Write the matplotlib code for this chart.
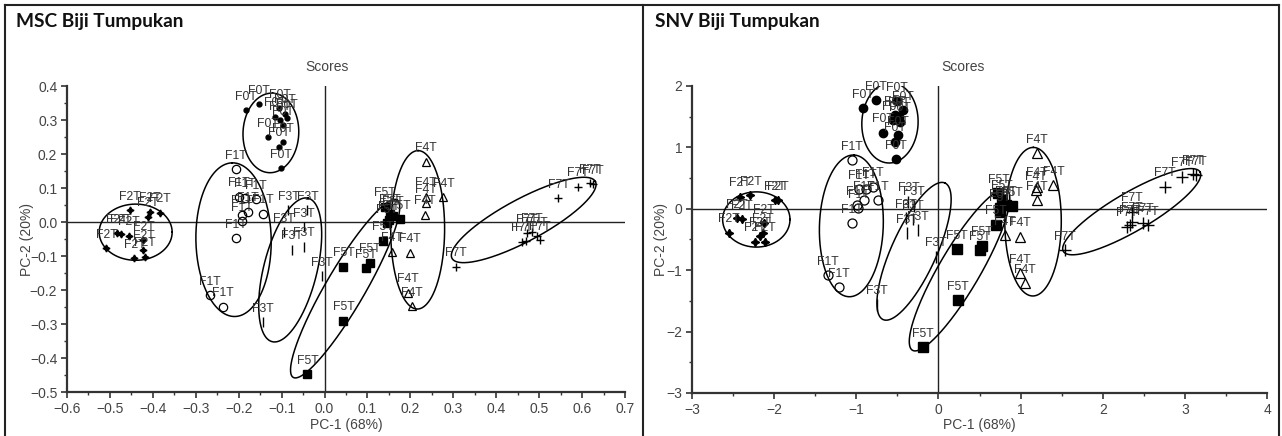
import numpy as np
import matplotlib
matplotlib.use('Agg')
import matplotlib.pyplot as plt
from matplotlib.lines import Line2D
from matplotlib.ticker import MultipleLocator

plt.rcParams['font.family'] = ['Liberation Sans', 'DejaVu Sans']

# ---------------- data: MSC (left) ----------------
msc_f0_x = [-0.183, -0.153, -0.092, -0.087, -0.104, -0.097, -0.132, -0.106, -0.097, -0.101, -0.105, -0.115]
msc_f0_y = [0.329, 0.347, 0.318, 0.306, 0.300, 0.285, 0.250, 0.221, 0.235, 0.159, 0.335, 0.310]
msc_f1_x = [-0.206, -0.160, -0.178, -0.144, -0.193, -0.193, -0.206, -0.267, -0.237, -0.200, -0.185]
msc_f1_y = [0.155, 0.067, 0.030, 0.025, 0.021, 0.003, -0.048, -0.215, -0.249, 0.075, 0.072]
msc_f2_x = [-0.453, -0.407, -0.383, -0.412, -0.484, -0.475, -0.455, -0.422, -0.508, -0.443, -0.422, -0.418]
msc_f2_y = [0.035, 0.030, 0.027, 0.015, -0.033, -0.035, -0.040, -0.053, -0.077, -0.107, -0.082, -0.102]
msc_f3_x = [-0.076, -0.049, -0.084, -0.040, -0.094, -0.048, -0.143, -0.006]
msc_f3_y = [-0.082, -0.073, 0.035, 0.035, -0.030, -0.015, -0.294, -0.159]
msc_f4_x = [0.237, 0.237, 0.277, 0.237, 0.234, 0.157, 0.198, 0.195, 0.203]
msc_f4_y = [0.177, 0.074, 0.073, 0.055, 0.021, -0.087, -0.090, -0.208, -0.247]
msc_f5_x = [0.141, 0.153, 0.160, 0.176, 0.146, 0.150, 0.136, 0.044, 0.097, 0.106, 0.044, -0.040]
msc_f5_y = [0.045, 0.024, 0.018, 0.008, -0.004, 0.005, -0.055, -0.131, -0.136, -0.120, -0.290, -0.447]
msc_f7_x = [0.625, 0.618, 0.590, 0.545, 0.471, 0.483, 0.495, 0.502, 0.460, 0.470, 0.307]
msc_f7_y = [0.112, 0.114, 0.104, 0.070, -0.033, -0.030, -0.041, -0.053, -0.058, -0.056, -0.131]

# ellipses: centre x, centre y, end of major semi-axis x, y, minor/major ratio
msc_ellipses = [
    (-0.125, 0.262, -0.121, 0.379, 0.70),
    (-0.212, -0.052, -0.215, 0.174, 0.49),
    (-0.440, -0.030, -0.355, -0.030, 0.77),
    (-0.080, -0.141, -0.038, 0.070, 0.36),
    (0.217, -0.023, 0.218, 0.210, 0.34),
    (0.048, -0.196, 0.169, 0.065, 0.19),
    (0.464, 0.006, 0.631, 0.119, 0.26),
]

# ---------------- data: SNV (right) ----------------
snv_f0_x = [-0.914, -0.763, -0.671, -0.516, -0.528, -0.488, -0.427, -0.476, -0.528, -0.467, -0.549, -0.50]
snv_f0_y = [1.637, 1.772, 1.240, 0.806, 1.093, 1.202, 1.609, 1.500, 1.528, 1.419, 1.446, 1.75]
snv_f1_x = [-1.056, -0.800, -0.906, -0.739, -0.975, -0.995, -1.056, -1.350, -1.207, -0.97, -0.88]
snv_f1_y = [0.795, 0.360, 0.143, 0.143, 0.008, 0.06, -0.236, -1.078, -1.28, 0.32, 0.33]
snv_f2_x = [-2.415, -2.29, -1.99, -1.95, -2.456, -2.395, -2.123, -2.546, -2.233, -2.139, -2.111, -2.17]
snv_f2_y = [0.197, 0.22, 0.143, 0.143, -0.155, -0.171, -0.236, -0.389, -0.535, -0.389, -0.535, -0.45]
snv_f3_x = [-0.386, -0.245, -0.366, -0.30, -0.40, -0.31, -0.03, -0.75]
snv_f3_y = [-0.399, -0.345, 0.116, 0.05, -0.15, -0.17, -0.78, -1.56]
snv_f4_x = [1.197, 1.197, 1.40, 1.197, 1.19, 0.993, 0.811, 0.993, 1.054]
snv_f4_y = [0.904, 0.36, 0.388, 0.143, 0.30, -0.454, -0.427, -1.05, -1.21]
snv_f5_x = [0.73, 0.77, 0.89, 0.75, 0.82, 0.75, 0.70, 0.22, 0.50, 0.53, 0.24, -0.19]
snv_f5_y = [0.25, 0.15, 0.04, 0.01, 0.06, -0.05, -0.26, -0.66, -0.67, -0.60, -1.49, -2.25]
snv_f7_x = [3.136, 3.10, 2.962, 2.759, 2.353, 2.292, 2.33, 2.487, 2.555, 2.36, 1.541]
snv_f7_y = [0.55, 0.56, 0.523, 0.36, -0.21, -0.292, -0.26, -0.226, -0.264, -0.05, -0.671]

snv_ellipses = [
    (-0.59, 1.40, -0.57, 2.054, 0.70),
    (-1.06, -0.278, -1.03, 0.876, 0.45),
    (-2.217, -0.174, -1.807, -0.174, 0.82),
    (-0.297, -0.692, 0.08, 0.42, 0.30),
    (1.152, -0.21, 1.155, 1.0, 0.38),
    (0.257, -0.997, 0.83, 0.31, 0.22),
    (2.353, -0.047, 3.185, 0.60, 0.245),
]

STYLE = {
    'F0': dict(marker='o', mfc='black', mec='black'),
    'F1': dict(marker='o', mfc='none', mec='black', mew=0.9),
    'F2': dict(marker=(4, 1, 0), mfc='black', mec='black'),
    'F3': dict(marker='|', mec='black', mew=1.0),
    'F4': dict(marker='^', mfc='none', mec='black', mew=0.9),
    'F5': dict(marker='s', mfc='black', mec='black'),
    'F7': dict(marker='+', mec='black', mew=1.0),
}

W, H = 1282, 436
fig = plt.figure(figsize=(W / 100, H / 100), dpi=100)


def draw_ellipse(ax, cx, cy, ex, ey, ratio):
    # work in pixel space so the tilt looks right
    pos = ax.get_position()
    x0, x1 = ax.get_xlim()
    y0, y1 = ax.get_ylim()
    kx = W * pos.width / (x1 - x0)
    ky = H * pos.height / (y1 - y0)
    ux, uy = (ex - cx) * kx, (ey - cy) * ky
    vx, vy = -uy * ratio, ux * ratio
    t = np.linspace(0, 2 * np.pi, 300)
    px = ux * np.cos(t) + vx * np.sin(t)
    py = uy * np.cos(t) + vy * np.sin(t)
    ax.plot(cx + px / kx, cy + py / ky, color='black', lw=1.1, zorder=3)


def draw_panel(rect, groups, ellipses, xlim, ylim, xmaj, ymaj, sizes,
               title_x, ylab_x, xlab_y):
    ax = fig.add_axes(rect)
    ax.set_xlim(*xlim)
    ax.set_ylim(*ylim)
    ax.axhline(0, color='#222222', lw=1.0, zorder=1)
    ax.axvline(0, color='#222222', lw=1.0, zorder=1)
    for name, (xs, ys) in groups.items():
        ax.plot(xs, ys, ls='none', ms=sizes[name], zorder=4, **STYLE[name])
        for x, y in zip(xs, ys):
            ax.annotate(name + 'T', (x, y), xytext=(0, 7.5),
                        textcoords='offset points', ha='center',
                        va='baseline', fontsize=8.8, color='#333333', zorder=5)
    for e in ellipses:
        draw_ellipse(ax, *e)

    for s in ['top', 'right']:
        ax.spines[s].set_visible(False)
    for s in ['left', 'bottom']:
        ax.spines[s].set_color('#333333')
        ax.spines[s].set_linewidth(1.6)
    ax.xaxis.set_major_locator(MultipleLocator(xmaj))
    ax.xaxis.set_minor_locator(MultipleLocator(xmaj / 2))
    ax.yaxis.set_major_locator(MultipleLocator(ymaj))
    ax.yaxis.set_minor_locator(MultipleLocator(ymaj / 2))
    ax.tick_params(which='major', direction='out', length=4, width=1.2,
                   color='#333333', labelsize=10, labelcolor='#444444', pad=3)
    ax.tick_params(which='minor', direction='out', length=2.5, width=1.0,
                   color='#333333')
    ax.set_title('Scores', x=title_x, pad=11, fontsize=10, color='#444444')
    ax.set_xlabel('PC-1 (68%)', fontsize=10, color='#444444')
    ax.set_ylabel('PC-2 (20%)', fontsize=10, color='#444444')
    ax.xaxis.set_label_coords(0.5, xlab_y)
    ax.yaxis.set_label_coords(ylab_x, 0.5)
    return ax


msc_groups = {
    'F0': (msc_f0_x, msc_f0_y), 'F1': (msc_f1_x, msc_f1_y),
    'F2': (msc_f2_x, msc_f2_y), 'F3': (msc_f3_x, msc_f3_y),
    'F4': (msc_f4_x, msc_f4_y), 'F5': (msc_f5_x, msc_f5_y),
    'F7': (msc_f7_x, msc_f7_y),
}
snv_groups = {
    'F0': (snv_f0_x, snv_f0_y), 'F1': (snv_f1_x, snv_f1_y),
    'F2': (snv_f2_x, snv_f2_y), 'F3': (snv_f3_x, snv_f3_y),
    'F4': (snv_f4_x, snv_f4_y), 'F5': (snv_f5_x, snv_f5_y),
    'F7': (snv_f7_x, snv_f7_y),
}

msc_sizes = {'F0': 3.5, 'F1': 6, 'F2': 5, 'F3': 7, 'F4': 5.5, 'F5': 5.5, 'F7': 6}
snv_sizes = {'F0': 6, 'F1': 6.5, 'F2': 6, 'F3': 8, 'F4': 7.5, 'F5': 7, 'F7': 8}

draw_panel([67 / W, 1 - 392 / H, 558 / W, 306 / H], msc_groups, msc_ellipses,
           (-0.6, 0.7), (-0.5, 0.4), 0.1, 0.1, msc_sizes,
           0.466, -0.059, -0.085)
draw_panel([692 / W, 1 - 393 / H, 575 / W, 307 / H], snv_groups, snv_ellipses,
           (-3, 4), (-3, 2), 1, 1, snv_sizes,
           0.471, -0.042, -0.082)

# panel frame
frame = dict(transform=fig.transFigure, color='#222222', lw=1.5)
fig.add_artist(Line2D([5 / W, 1279 / W], [1 - 5 / H, 1 - 5 / H], **frame))
fig.add_artist(Line2D([5 / W, 5 / W], [0, 1 - 5 / H], **frame))
fig.add_artist(Line2D([643 / W, 643 / W], [0, 1 - 5 / H], **frame))
fig.add_artist(Line2D([1279 / W, 1279 / W], [0, 1 - 5 / H], **frame))

fig.text(16 / W, 1 - 21 / H, 'MSC Biji Tumpukan', fontsize=13.8, fontweight='bold',
         family=['Lato', 'DejaVu Sans'], va='center', color='#111111')
fig.text(655 / W, 1 - 21 / H, 'SNV Biji Tumpukan', fontsize=13.8, fontweight='bold',
         family=['Lato', 'DejaVu Sans'], va='center', color='#111111')

fig.savefig('out.png', dpi=100)
